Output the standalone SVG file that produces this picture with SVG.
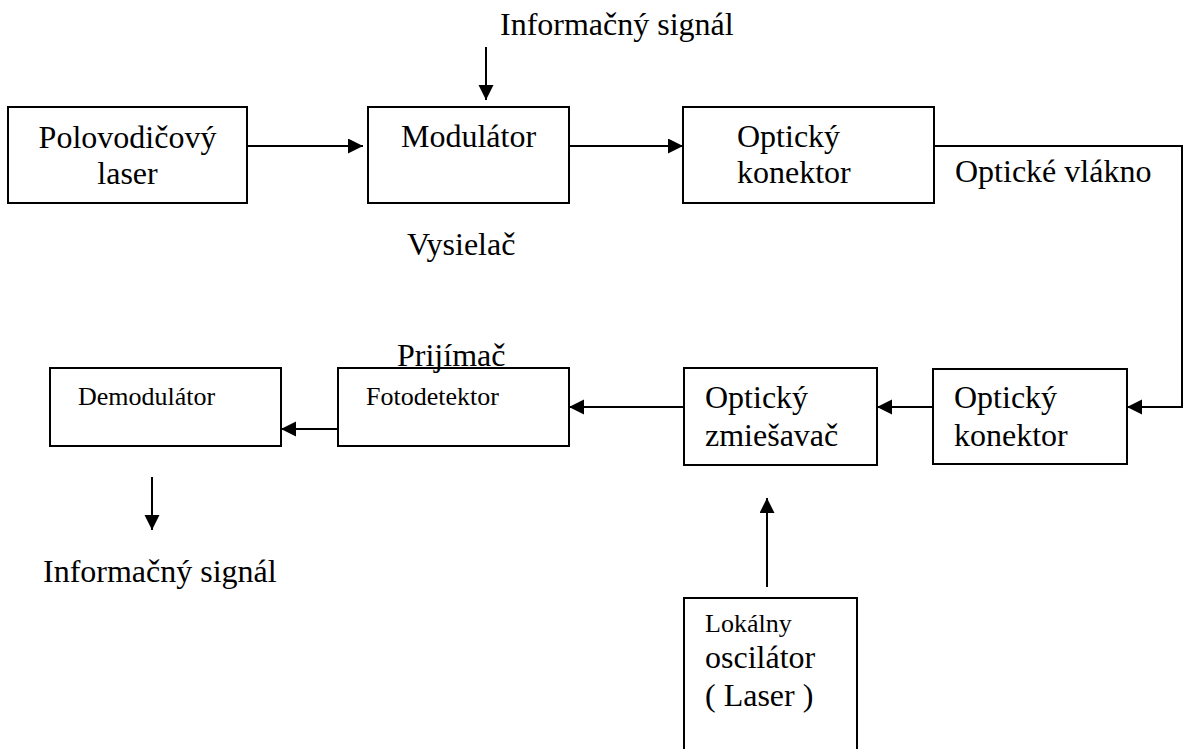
<svg xmlns="http://www.w3.org/2000/svg" width="1184" height="749" viewBox="0 0 1184 749">
<style>
.box{fill:#fff;stroke:#000;stroke-width:2}
.t{font-family:'Liberation Serif','Tinos','DejaVu Serif',serif;font-size:32px;fill:#000}
.s{font-family:'Liberation Serif','Tinos','DejaVu Serif',serif;font-size:26px;fill:#000}
.c{text-anchor:middle}
.ln{fill:none;stroke:#000;stroke-width:2}
</style>
<defs>
<marker id="ah" markerUnits="userSpaceOnUse" markerWidth="16" markerHeight="16" refX="15" refY="7.5" orient="auto">
<path d="M0,0 L15,7.5 L0,15 Z" fill="#000"/>
</marker>
</defs>
<rect width="1184" height="749" fill="#fff"/>
<g id="connectors">
<path class="ln" d="M247,146 H363" marker-end="url(#ah)"/>
<path class="ln" d="M569,146 H683" marker-end="url(#ah)"/>
<path class="ln" d="M486,47 V100" marker-end="url(#ah)"/>
<path class="ln" d="M934,146 H1182 V407 H1127" marker-end="url(#ah)"/>
<path class="ln" d="M933,407 H877" marker-end="url(#ah)"/>
<path class="ln" d="M684,407 H569" marker-end="url(#ah)"/>
<path class="ln" d="M338,429 H281" marker-end="url(#ah)"/>
<path class="ln" d="M152,477 V530" marker-end="url(#ah)"/>
<path class="ln" d="M767,587 V498" marker-end="url(#ah)"/>
</g>
<g id="laser">
<rect class="box" x="8" y="107" width="239" height="96"/>
<text class="t c" font-family="Liberation Serif" x="127.5" y="148">Polovodičový</text>
<text class="t c" font-family="Liberation Serif" x="127.5" y="184">laser</text>
</g>
<g id="modulator">
<rect class="box" x="368" y="107" width="201" height="96"/>
<text class="t c" x="468.5" y="147">Modulátor</text>
</g>
<g id="konektor1">
<rect class="box" x="683" y="107" width="251" height="96"/>
<text class="t" x="737" y="146.5">Optický</text>
<text class="t" x="737" y="183">konektor</text>
</g>
<g id="konektor2">
<rect class="box" x="933" y="369" width="194" height="95"/>
<text class="t" x="954" y="408">Optický</text>
<text class="t" x="954" y="446">konektor</text>
</g>
<g id="zmiesavac">
<rect class="box" x="684" y="368" width="193" height="97"/>
<text class="t" x="705" y="408">Optický</text>
<text class="t" x="705" y="446">zmiešavač</text>
</g>
<g id="fotodetektor">
<rect class="box" x="338" y="368" width="231" height="78"/>
<text class="s" x="366" y="405">Fotodetektor</text>
</g>
<g id="demodulator">
<rect class="box" x="50" y="368" width="231" height="78"/>
<text class="s" x="78" y="405">Demodulátor</text>
</g>
<g id="oscilator">
<path class="ln" d="M684,760 V598 H857 V760"/>
<text class="s" x="705" y="632">Lokálny</text>
<text class="t" x="705" y="668">oscilátor</text>
<text class="t" x="705" y="706">( Laser )</text>
</g>
<g id="labels">
<text class="t" x="500" y="35">Informačný signál</text>
<text class="t" x="955" y="182">Optické vlákno</text>
<text class="t" x="407" y="255">Vysielač</text>
<text class="t" x="397" y="366">Prijímač</text>
<text class="t" x="43" y="582">Informačný signál</text>
</g>
</svg>
